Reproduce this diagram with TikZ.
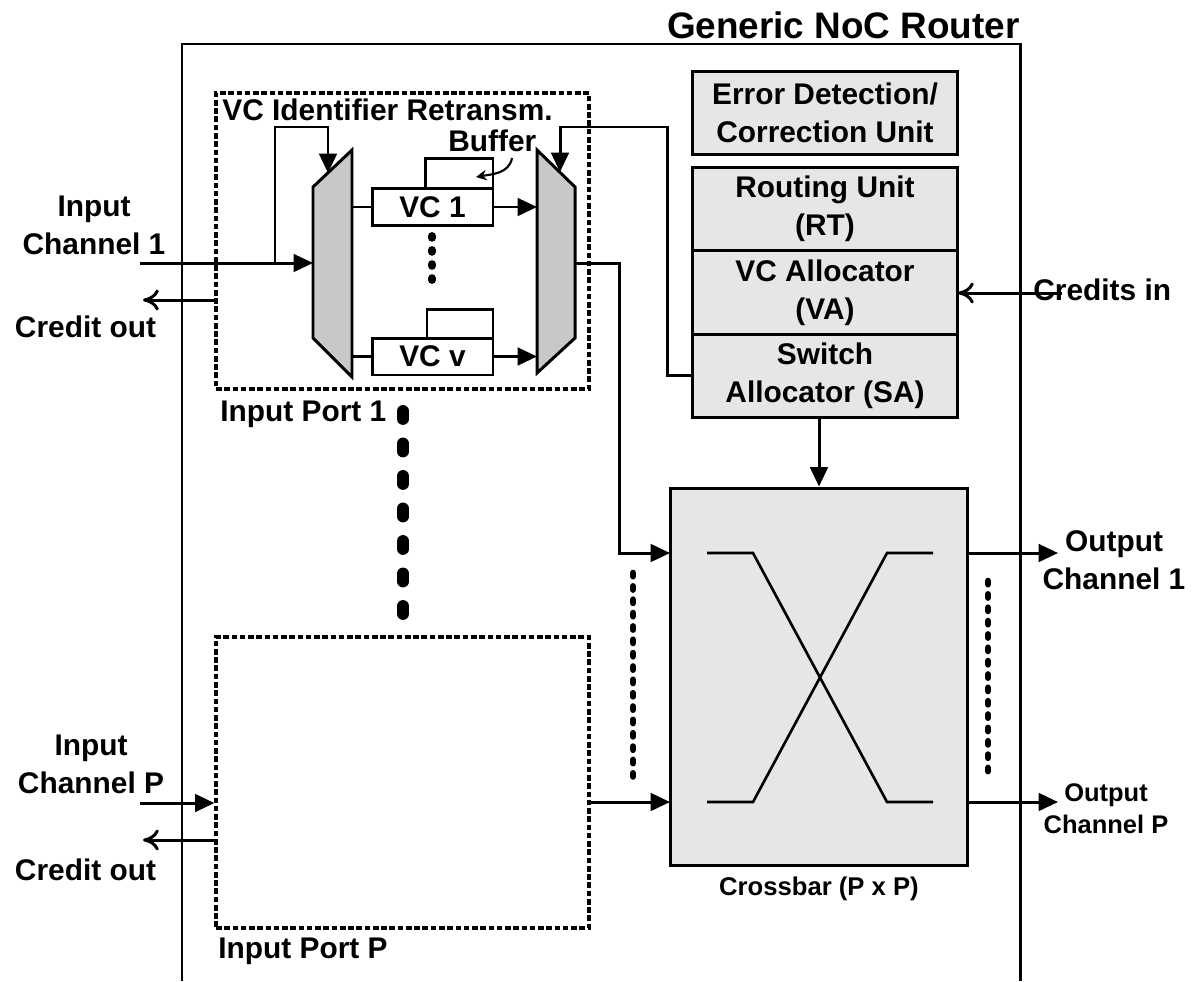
\documentclass[tikz,border=0pt]{standalone}
\usepackage{fontspec}
\setmainfont{Liberation Sans}
\usetikzlibrary{arrows.meta, positioning}
\definecolor{unitgray}{HTML}{E6E6E6}
\definecolor{muxgray}{HTML}{C8C8C8}
\newcommand{\lblfont}{\fontsize{17}{21.5}\selectfont\bfseries}
\tikzset{
    unit/.style={rectangle, draw=black, fill=unitgray, line width=1.7pt, outer sep=0pt, inner sep=0pt, minimum width=5.32cm, minimum height=1.67cm, align=center, font=\lblfont},
    port/.style={rectangle, draw=black, line width=1.9pt, dash pattern=on 3.2pt off 1.5pt, minimum width=7.46cm, inner sep=0pt},
    vcbox/.style={rectangle, draw=black, fill=white, line width=1.7pt, minimum width=2.42cm, minimum height=0.75cm, inner sep=0pt, outer sep=0pt, font=\lblfont},
    bufbox/.style={rectangle, draw=black, fill=white, line width=1.7pt, minimum height=0.6cm, inner sep=0pt, outer sep=0pt},
    txt/.style={font=\lblfont, align=center, inner sep=0pt},
    wire/.style={line width=1.7pt},
    arrow/.style={line width=1.7pt, -{Triangle[length=11pt, width=10pt]}},
    credit/.style={line width=1.7pt, -{Computer Modern Rightarrow[length=9pt, width=12pt]}},
    bigdash/.style={line width=6.8pt, line cap=round, dash pattern=on 4.5pt off 14pt},
    vcdots/.style={line width=4.5pt, line cap=round, dash pattern=on 1pt off 7pt},
    xdots/.style={line width=3.8pt, line cap=round, dash pattern=on 1.8pt off 5.8pt}
}

\begin{document}
\begin{tikzpicture}[x=0.02cm, y=-0.02cm]
    \useasboundingbox (0,0) rectangle (1200,981);

    % router outline
    \draw[wire] (182,981) |- (1020,44) -- (1020,981);
    \node[txt, font=\fontsize{21}{25}\selectfont\bfseries, anchor=base east] (title) at (1020,38) {Generic NoC Router};

    % input ports
    \node[port, minimum height=5.92cm] (port1) at (402.5,241) {};
    \node[port, minimum height=5.82cm] (portP) at (402.5,782.5) {};
    \node[txt, anchor=base west] (port1lbl) at (220,421) {Input Port 1};
    \node[txt, anchor=base west] (portPlbl) at (218,958) {Input Port P};
    \node[txt, anchor=base west] (vcid) at (222,120) {VC Identifier Retransm.};
    \node[txt, anchor=base west] (buflbl) at (448,151) {Buffer};

    % muxes
    \coordinate (lm1) at (313,187);
    \coordinate (lm2) at (352,150);
    \coordinate (lm3) at (352,377);
    \coordinate (lm4) at (313,338);
    \coordinate (rm1) at (537,150);
    \coordinate (rm2) at (575,187);
    \coordinate (rm3) at (575,338);
    \coordinate (rm4) at (537,373);
    \draw[wire, fill=muxgray] (lm1) -- (lm2) -- (lm3) -- (lm4) -- cycle;
    \draw[wire, fill=muxgray] (rm1) -- (rm2) -- (rm3) -- (rm4) -- cycle;

    % virtual channels
    \node[vcbox] (vc1) at (432.5,207) {VC 1};
    \node[vcbox, minimum height=0.74cm] (vcv) at (432.5,356.5) {VC v};
    \node[bufbox, minimum width=1.36cm, above=0pt of vc1.north east, anchor=south east] (buf1) {};
    \node[bufbox, minimum width=1.32cm, minimum height=0.58cm, above=0pt of vcv.north east, anchor=south east] (bufv) {};
    \draw[vcdots] (432,236) -- (432,291);

    % units
    \node[unit] (edc) at (825,113) {Error Detection/\\Correction Unit};
    \node[unit] (rt) at (825,209) {Routing Unit\\(RT)};
    \node[unit, below=0pt of rt] (va) {VC Allocator\\(VA)};
    \node[unit, below=0pt of va] (sa) {Switch\\Allocator (SA)};

    % crossbar
    \node[rectangle, draw=black, fill=unitgray, line width=1.7pt, minimum width=5.96cm, minimum height=7.56cm] (xbar) at (819,677) {};
    \draw[line width=1.5pt] (707,553) -- (753,553) -- (887,802) -- (933,802);
    \draw[line width=1.5pt] (707,802) -- (753,802) -- (887,553) -- (933,553);
    \node[txt, font=\fontsize{14.6}{17}\selectfont\bfseries, anchor=base] (xlbl) at (819,895) {Crossbar (P x P)};

    % channel labels
    \node[txt] (in1lbl) at (94,225) {Input\\Channel 1};
    \node[txt, anchor=base] (co1lbl) at (85.5,337) {Credit out};
    \node[txt] (inPlbl) at (91,764) {Input\\Channel P};
    \node[txt, anchor=base] (coPlbl) at (85.5,880) {Credit out};
    \node[txt, anchor=base west] (crlbl) at (1033,300) {Credits in};
    \node[txt] (out1lbl) at (1114,560) {Output\\Channel 1};
    \node[txt, font=\fontsize{14.5}{18}\selectfont\bfseries] (outPlbl) at (1106,809) {Output\\Channel P};

    % connection points
    \coordinate (in1) at (140,263);
    \coordinate (br1) at (275,263);
    \coordinate (brtop) at (275,127);
    \coordinate (lmtop) at (328,173);
    \coordinate (lmin) at (313,263);
    \coordinate (co1) at (143,300);
    \coordinate (rmout) at (575,263);
    \coordinate (bend1) at (619,263);
    \coordinate (saup) at (667,127);
    \coordinate (rmtop) at (560,172);
    \coordinate (xin1) at (670,553);
    \coordinate (xinP) at (670,802);
    \coordinate (out1) at (1058,553);
    \coordinate (outP) at (1058,802);
    \coordinate (crin) at (1062,293);
    \coordinate (inP) at (140,803);
    \coordinate (coP) at (143,840);
    \coordinate (buftail) at (512,158);
    \coordinate (bufhead) at (476,177);

    % wires
    \draw[arrow] (in1) -- (lmin);
    \draw[arrow] (br1) -- (brtop) -| (lmtop);
    \draw[credit] (co1 -| port1.west) -- (co1);
    \draw[wire] (vc1.west -| lm2) -- (vc1.west);
    \draw[wire] (vcv.west -| lm2) -- (vcv.west);
    \draw[arrow] (vc1.east) -- (vc1.east -| rm1);
    \draw[arrow] (vcv.east) -- (vcv.east -| rm1);
    \draw[line width=1.2pt, -{Stealth[length=6pt, width=6pt]}] (buftail) to[out=-100, in=10] (bufhead);
    \draw[arrow] (rmout) -- (bend1) |- (xin1);
    \draw[arrow] (sa.west) -| (saup) -| (rmtop);
    \draw[credit] (crin) -- (crin -| va.east);
    \draw[arrow] (sa.south -| xbar.north) -- (xbar.north);
    \draw[arrow] (portP.east |- xinP) -- (xinP);
    \draw[arrow] (inP) -- (inP -| portP.west);
    \draw[credit] (coP -| portP.west) -- (coP);
    \draw[arrow] (xbar.east |- xin1) -- (out1);
    \draw[arrow] (xbar.east |- xinP) -- (outP);

    % ellipses
    \draw[bigdash] (403,411) -- (403,614);
    \draw[xdots] (633,573) -- (633,782);
    \draw[xdots] (988,581) -- (988,772);
\end{tikzpicture}
\end{document}
